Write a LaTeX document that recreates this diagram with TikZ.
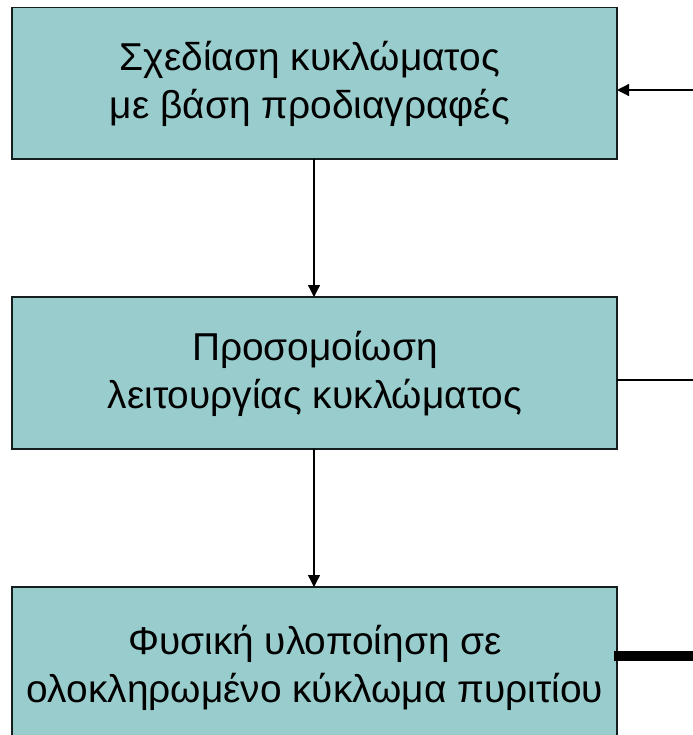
\documentclass[tikz,border=0pt]{standalone}
\usepackage{fontspec}
\setmainfont{Liberation Sans}
\usetikzlibrary{arrows.meta}
\definecolor{boxfill}{RGB}{153,204,204}
\definecolor{boxline}{RGB}{20,30,30}
\tikzset{
  box/.style={draw=boxline, line width=1.5bp, fill=boxfill, minimum width=605bp, inner sep=0pt, outer sep=0pt},
  lbl/.style={align=center, font=\fontsize{39}{48.5}\selectfont, inner sep=0pt},
  conn/.style={draw=black, line width=1.3bp},
  tip/.style={-{Triangle[length=12bp,width=12bp]}}
}
\begin{document}
\begin{tikzpicture}[x=1bp,y=-1bp]
\useasboundingbox (0,0) rectangle (693,735);
\begin{scope}
\clip (0,0) rectangle (693,735);
\node[box, minimum height=151.5bp] (b1) at (314.5,83.25) {};
\node[box, minimum height=152bp] (b2) at (314.5,373) {};
\node[box, minimum height=160bp] (b3) at (314.5,667) {};
\node[lbl] (t1) at (310,84) {Σχεδίαση κυκλώματος\\με βάση προδιαγραφές};
\node[lbl] (t2) at (315,374) {Προσομοίωση\\λειτουργίας κυκλώματος};
\node[lbl] (t3) at (315,668) {Φυσική υλοποίηση σε\\ολοκληρωμένο κύκλωμα πυριτίου};
\coordinate (in1) at (693,90);
\coordinate (out2) at (693,380);
\coordinate (out3) at (693,655.5);
\draw[conn, tip] (b1.south -| 314,0) -- (b2.north -| 314,0);
\draw[conn, tip] (b2.south -| 314,0) -- (b3.north -| 314,0);
\draw[conn, tip] (in1) -- (b1.east |- in1);
\draw[conn] (b2.east |- out2) -- (out2);
\draw[line width=10bp] ([xshift=-3bp]b3.east |- out3) -- (out3);
\end{scope}
\end{tikzpicture}
\end{document}
